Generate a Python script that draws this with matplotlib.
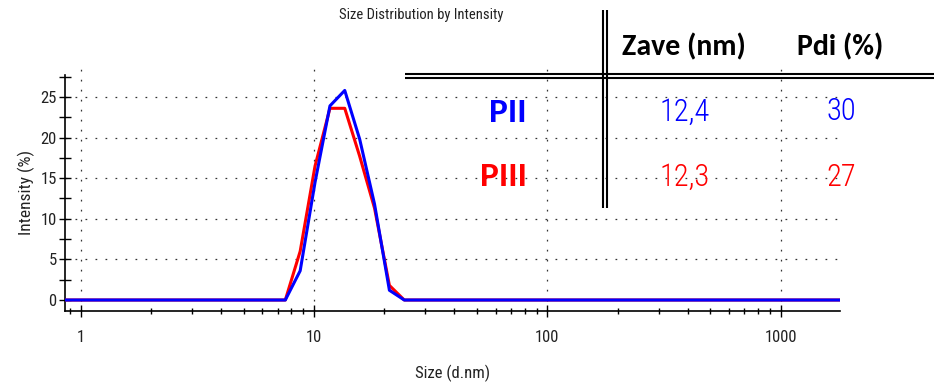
import matplotlib
matplotlib.use("Agg")
import matplotlib.pyplot as plt
from matplotlib.ticker import FixedLocator, MultipleLocator, NullFormatter

# Size classes (d.nm) and intensity (%) for the two samples
sizes = [0.4, 7.531, 8.721, 10.1, 11.7, 13.54, 15.69, 18.17, 21.04, 24.36, 10000]
intensity_pii = [0, 0, 3.6, 14.5, 23.9, 25.8, 19.8, 11.8, 1.2, 0, 0]
intensity_piii = [0, 0, 6.0, 16.5, 23.6, 23.6, 17.7, 11.3, 1.8, 0, 0]

# Summary table
samples = ["PII", "PIII"]
zave_nm = ["12,4", "12,3"]
pdi_pct = ["30", "27"]
sample_colors = ["#0000ff", "#ff0000"]

x_ticks = [1, 10, 100, 1000]
x_ticklabels = ["1", "10", "100", "1000"]
y_ticks = [0, 5, 10, 15, 20, 25]

W, H = 934, 382
plt.rcParams["font.family"] = ["Roboto Condensed", "DejaVu Sans"]

fig = plt.figure(figsize=(W / 100, H / 100), dpi=100)
ax = fig.add_axes([65 / W, 1 - 310.7 / H, 775 / W, 235.7 / H])

ax.plot(sizes, intensity_piii, color=sample_colors[1], lw=2.2, zorder=3)
ax.plot(sizes, intensity_pii, color=sample_colors[0], lw=2.2, zorder=4)

ax.set_xscale("log")
ax.set_xlim(0.856, 1797)
ax.set_ylim(-1.316, 27.7)

# dotted grid
dots = (0, (1.4, 6.6))
for yv in y_ticks[1:]:
    ax.axhline(yv, color="#333333", lw=0.9, ls=dots, zorder=1)
for xv in x_ticks:
    ax.axvline(xv, ymax=1.03, color="#333333", lw=0.9, ls=dots, zorder=1, clip_on=False)

ax.xaxis.set_major_locator(FixedLocator(x_ticks))
ax.set_xticklabels(x_ticklabels)
minor_x = [m * 10 ** d for d in range(-1, 4) for m in range(2, 10)]
ax.xaxis.set_minor_locator(FixedLocator(minor_x))
ax.xaxis.set_minor_formatter(NullFormatter())
ax.yaxis.set_major_locator(FixedLocator(y_ticks))
ax.yaxis.set_minor_locator(MultipleLocator(2.5))

ax.tick_params(axis="both", which="major", direction="inout", length=8, width=1,
               labelsize=12, colors="black", labelcolor="#222222")
ax.tick_params(axis="y", which="minor", direction="inout", length=8, width=1)
ax.tick_params(axis="x", which="minor", direction="inout", length=5, width=1)
ax.tick_params(axis="x", which="major", pad=10)
ax.tick_params(axis="y", which="major", pad=2)

for side in ["top", "right"]:
    ax.spines[side].set_visible(False)
for side in ["left", "bottom"]:
    ax.spines[side].set_linewidth(1.2)
ax.patch.set_alpha(0)

ax.set_xlabel("Size (d.nm)", fontsize=12, color="#222222", labelpad=14)
ax.set_ylabel("Intensity (%)", fontsize=12.5, color="#222222", labelpad=4)
fig.text(421 / W, 1 - 15 / H, "Size Distribution by Intensity", fontsize=10.5,
         ha="center", va="center", color="#222222")

# table overlay in pixel coordinates
tab = fig.add_axes([0, 0, 1, 1])
tab.set_xlim(0, W)
tab.set_ylim(H, 0)
tab.axis("off")
tab.patch.set_alpha(0)

tab.plot([405, W], [74, 74], color="black", lw=1.5, solid_capstyle="butt")
tab.plot([405, W], [78.3, 78.3], color="black", lw=1.5, solid_capstyle="butt")
tab.plot([603.3, 603.3], [10, 208], color="black", lw=1.5, solid_capstyle="butt")
tab.plot([606.7, 606.7], [10, 208], color="black", lw=1.5, solid_capstyle="butt")

head_font = ["Carlito", "DejaVu Sans"]
num_font = ["Roboto Condensed", "DejaVu Sans"]
tab.text(684, 47, "Zave (nm)", family=head_font, fontweight="bold", fontsize=21.5,
         ha="center", va="center")
tab.text(840, 47, "Pdi (%)", family=head_font, fontweight="bold", fontsize=21.5,
         ha="center", va="center")

row_y = [112, 177]
for name, zave, pdi, color, yy in zip(samples, zave_nm, pdi_pct, sample_colors, row_y):
    tab.text(527, yy, name, family=head_font, fontweight="bold", fontsize=25.5,
             color=color, ha="right", va="center")
    tab.text(685, yy, zave, family=num_font, fontweight="light", fontsize=22,
             color=color, ha="center", va="center")
    tab.text(841, yy, pdi, family=num_font, fontweight="light", fontsize=22,
             color=color, ha="center", va="center")

fig.savefig("out.png", dpi=100)
